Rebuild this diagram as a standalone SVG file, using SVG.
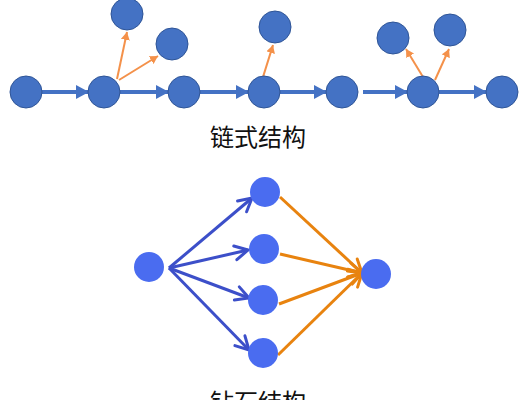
<svg xmlns="http://www.w3.org/2000/svg" width="520" height="400" viewBox="0 0 520 400">
<defs>
<style>
.cn{fill:#4472C4;stroke:#2F5597;stroke-width:1}
.dn{fill:#4A6CF0}
.cb{stroke:#4472C4;stroke-width:4;fill:none}
.co{stroke:#F4914A;stroke-width:2;fill:none}
.db{stroke:#3C4FC9;stroke-width:3;fill:none}
.do{stroke:#E8830F;stroke-width:3;fill:none}
.t{font-family:"Noto Sans CJK SC","Noto Sans",sans-serif;font-size:24px;fill:#111;text-anchor:middle}
</style>
<marker id="mb" markerUnits="userSpaceOnUse" markerWidth="14" markerHeight="14" refX="12" refY="7" orient="auto"><path d="M0,0 L13,7 L0,14 z" fill="#4472C4"/></marker>
<marker id="mo" markerUnits="userSpaceOnUse" markerWidth="9" markerHeight="9" refX="8" refY="4.5" orient="auto"><path d="M0,0 L8,4.5 L0,9 z" fill="#F4914A"/></marker>
<marker id="vb" markerUnits="userSpaceOnUse" markerWidth="18" markerHeight="18" refX="15" refY="9" orient="auto"><path d="M2,2 L15,9 L2,16" fill="none" stroke="#3C4FC9" stroke-width="3" stroke-linecap="round"/></marker>
<marker id="vo" markerUnits="userSpaceOnUse" markerWidth="18" markerHeight="18" refX="15" refY="9" orient="auto"><path d="M2,2 L15,9 L2,16" fill="none" stroke="#E8830F" stroke-width="3" stroke-linecap="round"/></marker>
</defs>
<g id="connectors">
<line class="cb" x1="42" y1="92" x2="88" y2="92" marker-end="url(#mb)"/>
<line class="cb" x1="120" y1="92" x2="168" y2="92" marker-end="url(#mb)"/>
<line class="cb" x1="200" y1="92" x2="248" y2="92" marker-end="url(#mb)"/>
<line class="cb" x1="280" y1="92" x2="326" y2="92" marker-end="url(#mb)"/>
<line class="cb" x1="363" y1="92" x2="407" y2="92" marker-end="url(#mb)"/>
<line class="cb" x1="439" y1="92" x2="486" y2="92" marker-end="url(#mb)"/>
<line class="co" x1="117" y1="79" x2="127" y2="32" marker-end="url(#mo)"/>
<line class="co" x1="119" y1="80" x2="158" y2="56" marker-end="url(#mo)"/>
<line class="co" x1="263" y1="77" x2="273" y2="45" marker-end="url(#mo)"/>
<line class="co" x1="423" y1="77" x2="406" y2="49" marker-end="url(#mo)"/>
<line class="co" x1="435" y1="80" x2="449" y2="49" marker-end="url(#mo)"/>
<line class="db" x1="169" y1="268" x2="252" y2="198" marker-end="url(#vb)"/>
<line class="db" x1="169" y1="268" x2="248" y2="250" marker-end="url(#vb)"/>
<line class="db" x1="169" y1="268" x2="249" y2="298" marker-end="url(#vb)"/>
<line class="db" x1="169" y1="268" x2="249" y2="350" marker-end="url(#vb)"/>
<line class="do" x1="280" y1="197" x2="362" y2="273" marker-end="url(#vo)"/>
<line class="do" x1="280" y1="254" x2="362" y2="273" marker-end="url(#vo)"/>
<line class="do" x1="279" y1="304" x2="362" y2="273" marker-end="url(#vo)"/>
<line class="do" x1="278" y1="355" x2="362" y2="273" marker-end="url(#vo)"/>
</g>
<g id="c1"><circle class="cn" cx="26" cy="92" r="16"/></g>
<g id="c2"><circle class="cn" cx="104" cy="92" r="16"/></g>
<g id="c3"><circle class="cn" cx="184" cy="92" r="16"/></g>
<g id="c4"><circle class="cn" cx="264" cy="92" r="16"/></g>
<g id="c5"><circle class="cn" cx="342" cy="92" r="16"/></g>
<g id="c6"><circle class="cn" cx="423" cy="92" r="16"/></g>
<g id="c7"><circle class="cn" cx="502" cy="92" r="16"/></g>
<g id="b1"><circle class="cn" cx="127" cy="14" r="16"/></g>
<g id="b2"><circle class="cn" cx="172" cy="44" r="16"/></g>
<g id="b3"><circle class="cn" cx="275" cy="27" r="16"/></g>
<g id="b4"><circle class="cn" cx="393" cy="38" r="16"/></g>
<g id="b5"><circle class="cn" cx="450" cy="30" r="16"/></g>
<g id="label1"><text class="t" x="258" y="146">链式结构</text></g>
<g id="d0"><circle class="dn" cx="149" cy="267" r="15"/></g>
<g id="d1"><circle class="dn" cx="265" cy="192" r="15"/></g>
<g id="d2"><circle class="dn" cx="264" cy="249" r="15"/></g>
<g id="d3"><circle class="dn" cx="263" cy="300" r="15"/></g>
<g id="d4"><circle class="dn" cx="263" cy="353" r="15"/></g>
<g id="d5"><circle class="dn" cx="376" cy="274" r="15"/></g>
<g id="label2"><text class="t" x="258" y="411">钻石结构</text></g>
</svg>
